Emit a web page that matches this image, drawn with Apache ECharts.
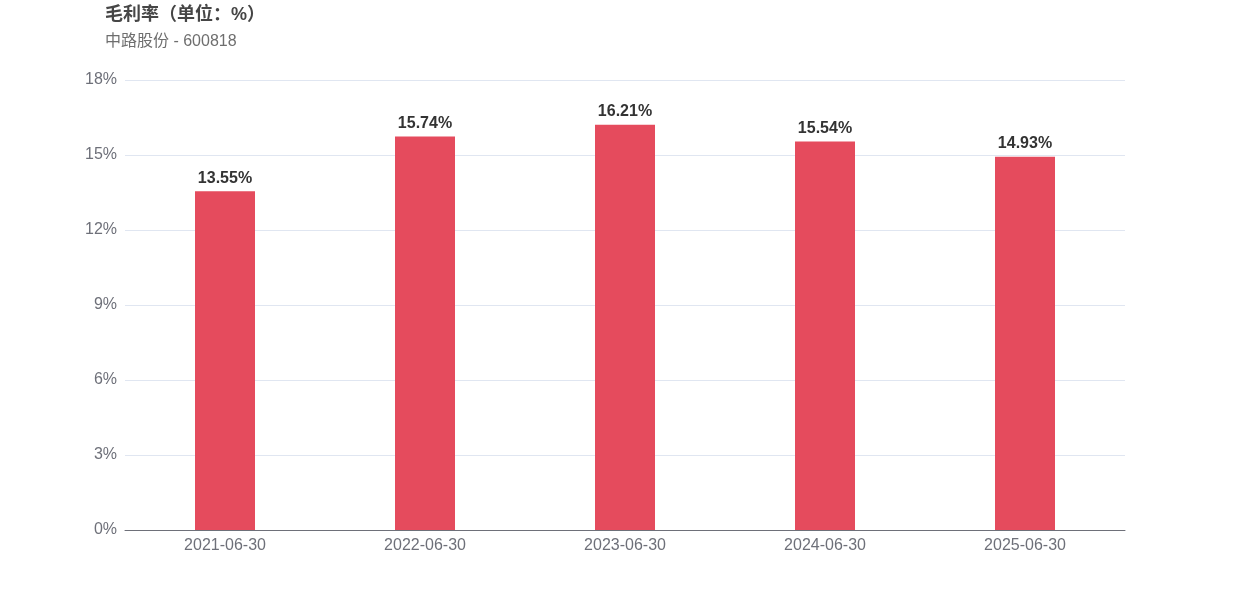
<!DOCTYPE html>
<html><head><meta charset="utf-8">
<script src="https://cdn.jsdelivr.net/npm/echarts@6/dist/echarts.min.js"></script>
<style>html,body{margin:0;padding:0;background:#fff}#c{width:1250px;height:600px}</style>
</head><body><div id="c"></div>
<script>
var categories = ['2021-06-30','2022-06-30','2023-06-30','2024-06-30','2025-06-30'];
var values = [13.55, 15.74, 16.21, 15.54, 14.93];
var chart = echarts.init(document.getElementById('c'));
chart.setOption({
  animation: false,
  title: {
    text: '毛利率（单位：%）', subtext: '中路股份 - 600818',
    left: 100, top: 1, itemGap: 10,
    textStyle: {fontSize: 18, fontWeight: 'bold', color: '#464646', fontFamily: 'Liberation Sans, Noto Sans CJK SC, sans-serif'},
    subtextStyle: {fontSize: 16, color: '#6e6e6e', fontFamily: 'Liberation Sans, Noto Sans CJK SC, sans-serif'}
  },
  grid: {left: 125, right: 125, top: 80, bottom: 70},
  xAxis: {
    type: 'category', data: categories,
    axisTick: {show: false},
    axisLine: {lineStyle: {color: '#6e7079'}},
    axisLabel: {color: '#6e7079', fontSize: 16, margin: 8, fontFamily: 'Liberation Sans, sans-serif'}
  },
  yAxis: {
    type: 'value', min: 0, max: 18, interval: 3,
    axisLabel: {formatter: '{value}%', color: '#6e7079', fontSize: 16, margin: 8, fontFamily: 'Liberation Sans, sans-serif'},
    splitLine: {lineStyle: {color: '#e0e6f1'}}
  },
  series: [{
    type: 'bar', data: values, barWidth: 60,
    itemStyle: {color: '#e54b5d'},
    label: {show: true, position: 'top', formatter: '{c}%', fontSize: 16, fontWeight: 'bold', color: '#333', fontFamily: 'Liberation Sans, sans-serif'}
  }]
});
</script></body></html>
